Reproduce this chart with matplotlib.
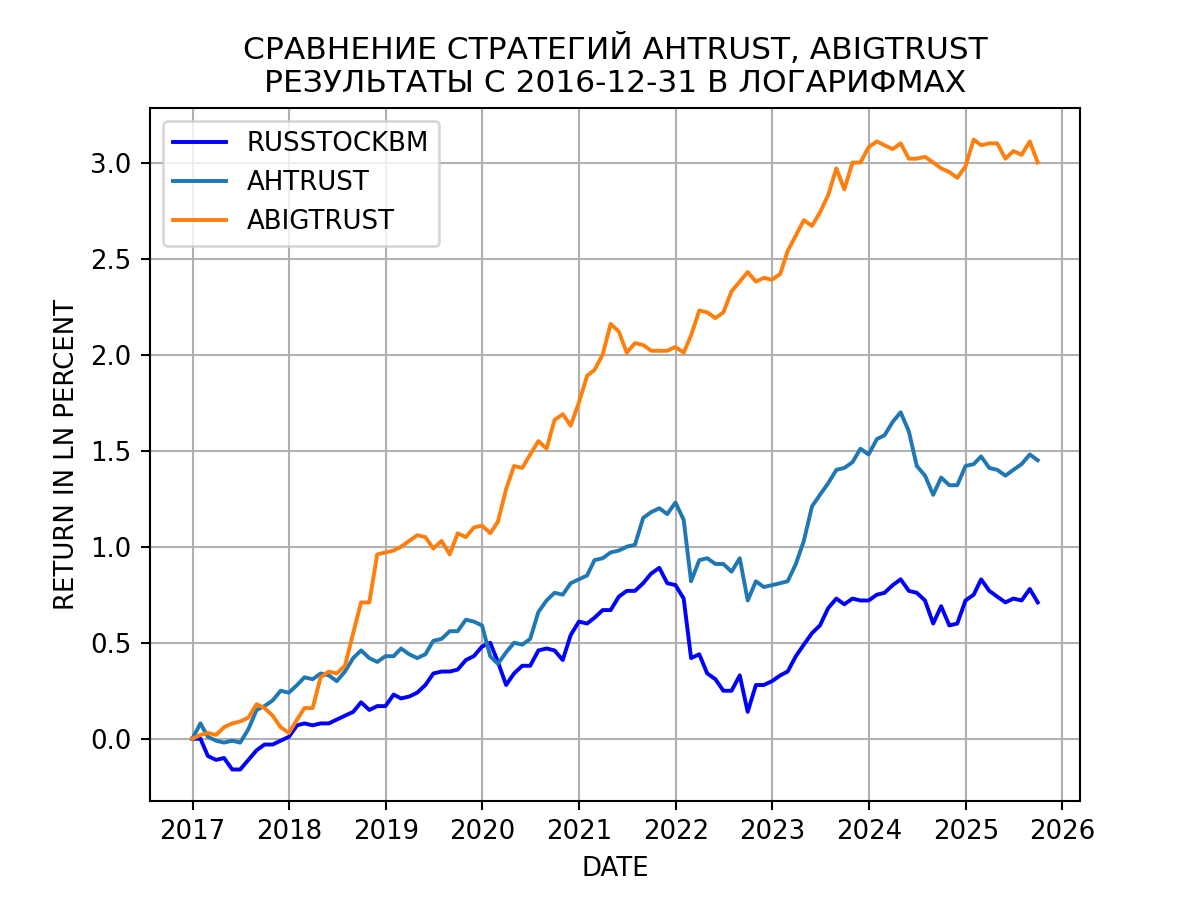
import matplotlib
matplotlib.use("Agg")
import matplotlib.pyplot as plt
import pandas as pd

dates = pd.date_range("2016-12-31", periods=106, freq="ME")

russtockbm = [0,
 0.0,-0.09,-0.11,-0.10,-0.16,-0.16,-0.11,-0.06,-0.03,-0.03,-0.01,0.01,
 0.07,0.08,0.07,0.08,0.08,0.10,0.12,0.14,0.19,0.15,0.17,0.17,
 0.23,0.21,0.22,0.24,0.28,0.34,0.35,0.35,0.36,0.41,0.43,0.48,
 0.50,0.40,0.28,0.34,0.38,0.38,0.46,0.47,0.46,0.41,0.54,0.61,
 0.60,0.63,0.67,0.67,0.74,0.77,0.77,0.81,0.86,0.89,0.81,0.80,
 0.73,0.42,0.44,0.34,0.31,0.25,0.25,0.33,0.14,0.28,0.28,0.30,
 0.33,0.35,0.43,0.49,0.55,0.59,0.68,0.73,0.70,0.73,0.72,0.72,
 0.75,0.76,0.80,0.83,0.77,0.76,0.72,0.60,0.69,0.59,0.60,0.72,
 0.75,0.83,0.77,0.74,0.71,0.73,0.72,0.78,0.71]

ahtrust = [0,
 0.08,0.01,-0.01,-0.02,-0.01,-0.02,0.05,0.15,0.17,0.20,0.25,0.24,
 0.28,0.32,0.31,0.34,0.33,0.30,0.35,0.42,0.46,0.42,0.40,0.43,
 0.43,0.47,0.44,0.42,0.44,0.51,0.52,0.56,0.56,0.62,0.61,0.59,
 0.43,0.39,0.45,0.50,0.49,0.52,0.66,0.72,0.76,0.75,0.81,0.83,
 0.85,0.93,0.94,0.97,0.98,1.00,1.01,1.15,1.18,1.20,1.17,1.23,
 1.14,0.82,0.93,0.94,0.91,0.91,0.87,0.94,0.72,0.82,0.79,0.80,
 0.81,0.82,0.91,1.03,1.21,1.27,1.33,1.40,1.41,1.44,1.51,1.48,
 1.56,1.58,1.65,1.70,1.60,1.42,1.37,1.27,1.36,1.32,1.32,1.42,
 1.43,1.47,1.41,1.40,1.37,1.40,1.43,1.48,1.45]

abigtrust = [0,
 0.02,0.03,0.02,0.06,0.08,0.09,0.11,0.18,0.16,0.12,0.06,0.03,
 0.10,0.16,0.16,0.32,0.35,0.34,0.38,0.55,0.71,0.71,0.96,0.97,
 0.98,1.00,1.03,1.06,1.05,0.99,1.03,0.96,1.07,1.05,1.10,1.11,
 1.07,1.13,1.30,1.42,1.41,1.48,1.55,1.51,1.66,1.69,1.63,1.75,
 1.89,1.92,2.00,2.16,2.12,2.01,2.06,2.05,2.02,2.02,2.02,2.04,
 2.01,2.10,2.23,2.22,2.19,2.22,2.33,2.38,2.43,2.38,2.40,2.39,
 2.42,2.54,2.62,2.70,2.67,2.74,2.83,2.97,2.86,3.00,3.00,3.08,
 3.11,3.09,3.07,3.10,3.02,3.02,3.03,3.00,2.97,2.95,2.92,2.98,
 3.12,3.09,3.10,3.10,3.02,3.06,3.04,3.11,3.00]

fig, ax = plt.subplots(figsize=(6.4, 4.8), dpi=187.5)
ax.plot(dates, russtockbm, color="blue", label="RUSSTOCKBM")
ax.plot(dates, ahtrust, color="tab:blue", label="AHTRUST")
ax.plot(dates, abigtrust, color="tab:orange", label="ABIGTRUST")
ax.set_title("СРАВНЕНИЕ СТРАТЕГИЙ AHTRUST, ABIGTRUST\nРЕЗУЛЬТАТЫ С 2016-12-31 В ЛОГАРИФМАХ")
ax.set_xlabel("DATE")
ax.set_ylabel("RETURN IN LN PERCENT")
ax.grid(True)
ax.legend(loc="upper left")
fig.savefig("out.png", dpi=187.5)
